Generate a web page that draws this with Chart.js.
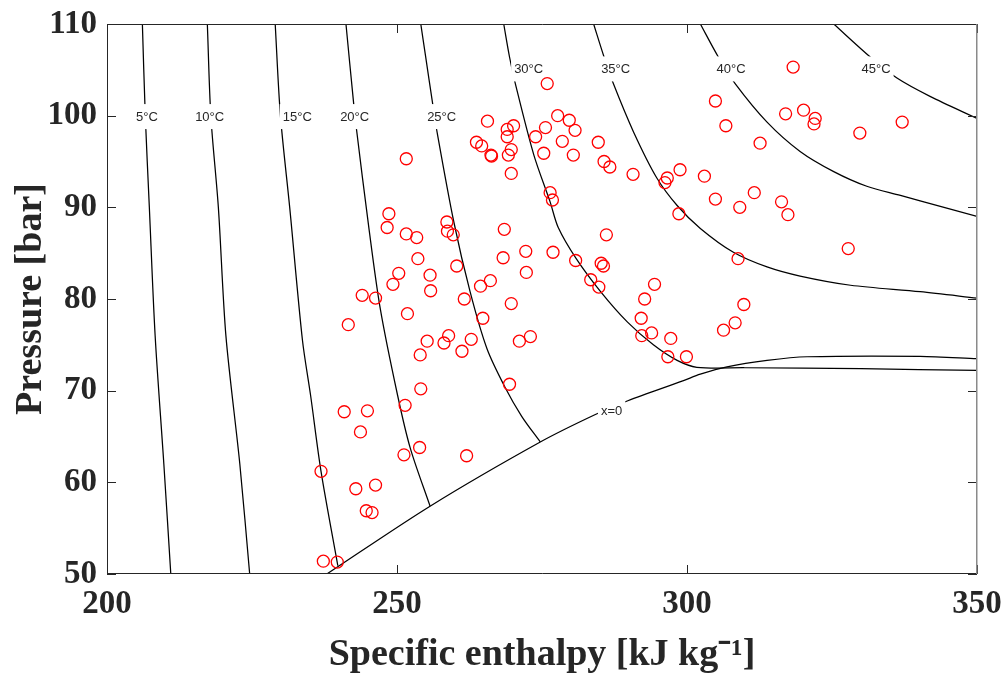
<!DOCTYPE html>
<html><head><meta charset="utf-8">
<script src="https://cdn.jsdelivr.net/npm/chart.js@4.4.0/dist/chart.umd.min.js"></script>
<style>html,body{margin:0;padding:0;background:#fff;}#wrap{width:1004px;height:675px;}</style>
</head><body><div id="wrap"><canvas id="c" width="1004" height="675"></canvas></div>
<script>
// Measured points: specific enthalpy [kJ/kg] and pressure [bar]
const enthalpy = [236.9,237.3,239.7,240.9,244.9,243.7,242.9,246.3,244.7,245.7,
  251.4,251.2,253.9,262.0,254.1,255.2,258.1,258.9,254.0,261.2,
  262.8,241.6,251.8,244.0,246.3,250.3,249.3,255.7,255.8,253.6,
  260.3,261.6,264.4,266.1,264.8,248.3,248.6,251.6,251.6,253.4,
  258.6,258.7,259.7,265.6,263.7,264.6,266.2,266.3,269.0,270.1,
  269.0,269.7,269.2,269.7,275.9,277.7,279.7,280.7,275.6,273.9,
  278.5,275.3,280.4,284.7,285.7,286.7,290.7,298.8,296.6,296.2,
  303.0,276.4,276.8,298.6,304.9,309.1,311.6,316.3,317.4,318.3,
  304.9,306.7,312.6,317.0,320.1,322.1,321.9,329.8,337.1,268.5,
  286.1,272.2,276.9,280.8,285.2,285.6,268.3,272.3,283.4,284.8,
  294.4,292.7,269.7,292.1,292.2,293.9,297.2,271.1,273.0,296.7,
  299.9,269.4,308.8,327.8,309.8,308.3,306.3];
const pressure = [61.2,51.4,51.3,67.7,67.8,65.5,59.3,59.7,56.9,56.7,
  68.4,63.0,63.8,62.9,70.2,75.4,75.2,76.0,73.9,74.3,
  75.6,77.2,78.4,80.4,80.1,82.8,81.6,82.6,80.9,84.4,
  83.6,80.0,81.4,82.0,77.9,87.8,89.3,95.3,87.1,86.7,
  88.4,87.4,87.0,99.4,97.1,96.7,95.7,95.6,98.5,98.9,
  97.7,96.3,95.7,93.7,103.5,100.0,99.5,98.4,98.7,97.7,
  97.2,95.9,95.7,97.1,95.0,94.4,93.6,94.1,93.2,92.7,
  93.4,91.6,90.8,89.3,90.9,90.0,91.6,90.6,89.2,105.3,
  101.6,98.9,97.0,100.2,100.6,99.7,99.1,98.1,99.3,87.6,
  87.0,85.2,85.1,84.2,83.9,83.6,84.5,82.9,82.1,81.3,
  81.6,80.0,79.5,77.9,76.0,76.3,75.7,75.4,75.9,73.7,
  73.7,70.7,84.4,85.5,79.4,77.4,76.6];

// Isotherms [h, P]
const iso5  = [[206.1,110],[206.6,100],[207.3,90],[208.3,76],[209.8,62],[211.0,50]];
const iso10 = [[217.3,110],[217.9,100],[219.2,90],[220.5,76],[222.9,62],[224.6,50]];
const iso15 = [[229.0,110],[229.9,100],[231.5,90],[233.7,75.5],[235.1,69.5],[236.9,61.2],[239.8,50.9]];
const iso20 = [[241.2,110],[242.5,101.5],[243.0,98.6],[245.1,88],[247.1,79],[250.1,69.5],[252.3,63.7],[255.7,57.4]];
const iso25 = [[254.1,110],[254.9,106.6],[256.1,101.5],[256.8,98.6],[259.8,88.4],[262.6,80.8],[265.5,74.6],[268.6,70.4],[271.5,67.2],[274.7,64.4]];
const iso30 = [[268.4,110],[269.4,106.4],[270.4,103.5],[273.6,95.7],[276.4,90.6],[277.8,87.8],[280.9,84.4],[285.1,80.8],[289.7,77.5],[294.2,75.0],[298.3,73.3],[301.7,72.55],[310,72.5],[330,72.4],[350,72.2]];
const iso35 = [[283.9,110],[285.7,106.4],[287.3,103.5],[290.8,98.2],[294.8,93.2],[298.3,90.2],[302.3,87.7],[308.0,85.1],[313.8,83.5],[319.5,82.5],[328.2,81.5],[340.2,80.8],[350,80.1]];
const iso40 = [[302.3,110],[305.4,106.4],[308.3,103.5],[313.8,99.3],[319.5,96.1],[325.3,93.9],[331.0,92.3],[336.8,91.3],[340.2,90.7],[350,89.0]];
const iso45 = [[325.3,110],[331.6,106.4],[336.2,104.1],[341.9,102.1],[350,99.7]];
const satLiquid = [[237.9,50],[255.7,57.4],[274.7,64.4],[284.2,67.4],[289.8,68.9],[299.4,71.1],[302.3,71.8],[306.9,72.6],[313.8,73.3],[320.7,73.7],[340.2,73.75],[350,73.5]];

const curveLabels = ['5°C','10°C','15°C','20°C','25°C','30°C','35°C','40°C','45°C','x=0'];
const labelH = [206.9,217.7,232.8,242.7,257.7,272.7,287.7,307.6,332.6,287.0];
const labelP = [99.9,99.9,99.9,99.9,99.9,105.1,105.1,105.1,105.1,67.85];

const xTicks = [200,250,300,350];
const yTicks = [50,60,70,80,90,100,110];

const toXY = arr => arr.map(d => ({x:d[0], y:d[1]}));
const curves = [iso5,iso10,iso15,iso20,iso25,iso30,iso35,iso40,iso45,satLiquid];

const AX = '#262626';
const SERIF = '"Liberation Serif","Times New Roman",serif';

const labelPlugin = {
  id:'curveLabels',
  beforeDatasetDraw(chart, args){
    if (args.index !== 0) return;
    const ctx = chart.ctx, xs = chart.scales.x, ys = chart.scales.y;
    ctx.save();
    ctx.font = '13px "Liberation Sans", Arial, sans-serif';
    ctx.textAlign = 'center'; ctx.textBaseline = 'middle';
    curveLabels.forEach((t,i)=>{
      const px = xs.getPixelForValue(labelH[i]), py = ys.getPixelForValue(labelP[i]);
      const w = ctx.measureText(t).width;
      ctx.fillStyle = '#fff';
      ctx.fillRect(px - w/2 - 3, py - 12.5, w + 6, 25);
      ctx.fillStyle = AX;
      ctx.fillText(t, px, py + 1);
    });
    ctx.restore();
  }
};

const framePlugin = {
  id:'frame',
  afterDatasetsDraw(chart){
    const ctx = chart.ctx, a = chart.chartArea, xs = chart.scales.x, ys = chart.scales.y;
    ctx.save();
    ctx.lineWidth = 1;
    ctx.strokeStyle = AX;
    ctx.beginPath();
    ctx.moveTo(a.right, a.top + 0.5); ctx.lineTo(a.left + 0.5, a.top + 0.5);
    ctx.lineTo(a.left + 0.5, a.bottom - 0.5); ctx.lineTo(a.right, a.bottom - 0.5);
    const L = 9;
    xTicks.forEach(v=>{
      const x = Math.round(xs.getPixelForValue(v)) + 0.5;
      ctx.moveTo(x, a.bottom); ctx.lineTo(x, a.bottom - L);
      ctx.moveTo(x, a.top); ctx.lineTo(x, a.top + L);
    });
    yTicks.forEach(v=>{
      const y = Math.round(ys.getPixelForValue(v)) + 0.5;
      ctx.moveTo(a.left, y); ctx.lineTo(a.left + L, y);
      ctx.moveTo(a.right, y); ctx.lineTo(a.right - L, y);
    });
    ctx.stroke();
    ctx.strokeStyle = '#8a8a8a';
    ctx.lineWidth = 1.5;
    ctx.beginPath();
    ctx.moveTo(a.right - 0.25, a.top); ctx.lineTo(a.right - 0.25, a.bottom);
    ctx.stroke();
    ctx.restore();
  }
};

const datasets = [{
  label:'data', data: enthalpy.map((h,i)=>({x:h, y:pressure[i]})),
  showLine:false, pointStyle:'circle', pointRadius:6, pointHoverRadius:6,
  pointBorderWidth:1.3, pointBorderColor:'#ff0000', pointBackgroundColor:'rgba(0,0,0,0)'
}];
curves.forEach((c,i)=>{
  datasets.push({label:curveLabels[i], data:toXY(c), showLine:true, pointRadius:0,
    borderColor:'#000', borderWidth:1.25, tension:0.3, fill:false});
});

new Chart(document.getElementById('c'), {
  type:'scatter',
  data:{datasets},
  options:{
    responsive:false, animation:false, devicePixelRatio:1,
    layout:{padding:{left:0,right:27,top:24,bottom:0}},
    plugins:{legend:{display:false}, tooltip:{enabled:false}},
    scales:{
      x:{type:'linear', min:200, max:350,
        afterBuildTicks:s=>{s.ticks = xTicks.map(v=>({value:v}));},
        afterFit:s=>{s.height = 101;},
        grid:{display:false, drawTicks:true, tickLength:14}, border:{display:false},
        ticks:{color:AX, padding:0, maxRotation:0, autoSkip:false,
          font:{family:SERIF, size:33, weight:'bold', lineHeight:1}},
        title:{display:true, text:'Specific enthalpy [kJ kg⁻¹]', color:AX,
          font:{family:SERIF, size:38, weight:'bold', lineHeight:1}, padding:{top:0,bottom:1}}
      },
      y:{type:'linear', min:50, max:110,
        afterBuildTicks:s=>{s.ticks = yTicks.map(v=>({value:v}));},
        afterFit:s=>{s.width = 107;},
        grid:{display:false, drawTicks:true, tickLength:10}, border:{display:false},
        ticks:{color:AX, padding:0, autoSkip:false,
          font:{family:SERIF, size:33, weight:'bold', lineHeight:1}},
        title:{display:true, text:'Pressure [bar]', color:AX,
          font:{family:SERIF, size:38, weight:'bold'}, padding:{top:8,bottom:0}}
      }
    }
  },
  plugins:[labelPlugin, framePlugin]
});
</script></body></html>
